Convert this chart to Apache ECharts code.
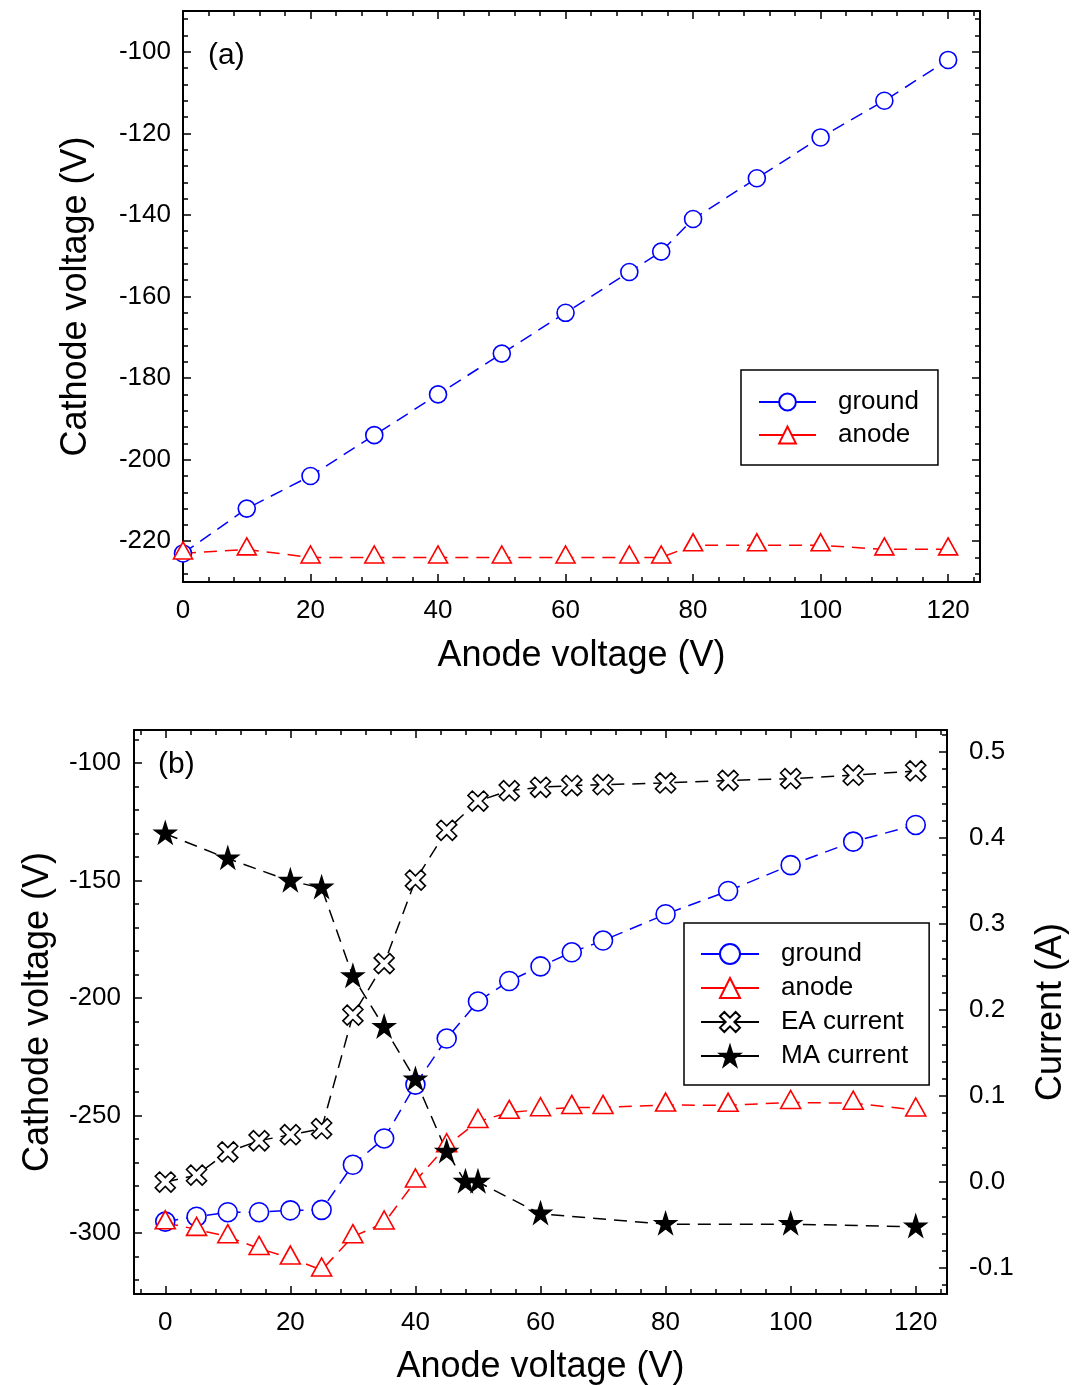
<!DOCTYPE html>
<html>
<head>
<meta charset="utf-8">
<script src="https://cdn.jsdelivr.net/npm/echarts@6/dist/echarts.min.js"></script>
<style>
html,body{margin:0;padding:0;background:#fff;}
#c{width:1072px;height:1385px;}
</style>
</head>
<body>
<div id="c"></div>
<script>
// ---------- Panel (a) data ----------
const xA = [0, 10, 20, 30, 40, 50, 60, 70, 75, 80, 90, 100, 110, 120];
const groundA = [-223, -212, -204, -194, -184, -174, -164, -154, -149, -141, -131, -121, -112, -102];
const anodeA = [-223, -222, -224, -224, -224, -224, -224, -224, -224, -221, -221, -221, -222, -222];

// ---------- Panel (b) data ----------
const xB = [0, 5, 10, 15, 20, 25, 30, 35, 40, 45, 50, 55, 60, 65, 70, 80, 90, 100, 110, 120];
const groundB = [-295.2, -293.1, -291.2, -291.2, -290.4, -290.2, -271.0, -259.8, -236.9, -217.3, -201.5, -192.8, -186.6, -180.6, -175.6, -164.4, -154.5, -143.5, -133.5, -126.4];
const anodeB = [-295.7, -298.5, -301.6, -306.6, -310.7, -315.8, -301.6, -295.8, -277.9, -262.9, -252.6, -248.7, -247.6, -246.6, -246.6, -245.6, -245.7, -244.5, -244.8, -247.7];
const eaCurrent = [0.000, 0.008, 0.035, 0.048, 0.055, 0.062, 0.194, 0.254, 0.351, 0.409, 0.443, 0.455, 0.459, 0.461, 0.462, 0.464, 0.467, 0.469, 0.473, 0.478];
const xMA = [0, 10, 20, 25, 30, 35, 40, 45, 48, 50, 60, 80, 100, 120];
const maCurrent = [0.405, 0.376, 0.350, 0.342, 0.239, 0.180, 0.119, 0.035, 0.000, 0.000, -0.037, -0.049, -0.049, -0.052];

// ---------- Tick labels ----------
const xTicksA = [0, 20, 40, 60, 80, 100, 120];
const yTicksA = [-220, -200, -180, -160, -140, -120, -100];
const xTicksB = [0, 20, 40, 60, 80, 100, 120];
const yTicksB = [-300, -250, -200, -150, -100];
const y2TicksB = [-0.1, 0.0, 0.1, 0.2, 0.3, 0.4, 0.5];

function minorList(from, to, step, majorStep, scale) {
  const out = [];
  for (let v = from; v <= to; v += step) {
    if (v % majorStep !== 0) out.push(v / scale);
  }
  return out;
}
const xMinorA = minorList(0, 124, 4, 20, 1);
const yMinorA = minorList(-228, -92, 4, 20, 1);
const xMinorB = minorList(-4, 124, 4, 20, 1);
const yMinorB = minorList(-320, -90, 10, 50, 1);
const y2MinorB = minorList(-12, 52, 2, 10, 100);

const FONT = 'Liberation Sans, Arial, sans-serif';
const AX = '#000';

function pair(common, major, minor, labelCfg, nameCfg) {
  const base = Object.assign({type: 'value', splitLine: {show: false}}, common);
  const a = Object.assign({}, base, {
    axisLine: {show: true, onZero: false, lineStyle: {color: AX, width: 2}},
    axisTick: {show: true, inside: true, length: 8, customValues: major, lineStyle: {color: AX, width: 1.5}},
    axisLabel: labelCfg ? Object.assign({show: true, customValues: major, color: '#000', fontSize: 26, fontFamily: FONT}, labelCfg) : {show: false}
  }, nameCfg || {});
  const b = Object.assign({}, base, {
    axisLine: {show: false, onZero: false},
    axisTick: {show: true, inside: true, length: 5, customValues: minor, lineStyle: {color: AX, width: 1.5}},
    axisLabel: {show: false}
  });
  return [a, b];
}

const nameStyle = {color: '#000', fontSize: 36, fontFamily: FONT};

const xAxes = [].concat(
  pair({gridIndex: 0, position: 'bottom', min: 0, max: 125}, xTicksA, xMinorA, {margin: 16},
       {name: 'Anode voltage (V)', nameLocation: 'middle', nameGap: 56, nameTextStyle: nameStyle}),
  pair({gridIndex: 0, position: 'top', min: 0, max: 125}, xTicksA, xMinorA, null),
  pair({gridIndex: 1, position: 'bottom', min: -5, max: 125}, xTicksB, xMinorB, {margin: 16},
       {name: 'Anode voltage (V)', nameLocation: 'middle', nameGap: 55, nameTextStyle: nameStyle}),
  pair({gridIndex: 1, position: 'top', min: -5, max: 125}, xTicksB, xMinorB, null)
);
const yAxes = [].concat(
  pair({gridIndex: 0, position: 'left', min: -230, max: -90}, yTicksA, yMinorA, {margin: 12},
       {name: 'Cathode voltage (V)', nameLocation: 'middle', nameGap: 89, nameRotate: 90, nameTextStyle: nameStyle}),
  pair({gridIndex: 0, position: 'right', min: -230, max: -90}, yTicksA, yMinorA, null),
  pair({gridIndex: 1, position: 'left', min: -326, max: -86}, yTicksB, yMinorB, {margin: 13},
       {name: 'Cathode voltage (V)', nameLocation: 'middle', nameGap: 78, nameRotate: 90, nameTextStyle: nameStyle}),
  pair({gridIndex: 1, position: 'right', min: -0.1302, max: 0.5256}, y2TicksB, y2MinorB,
       {margin: 22, formatter: v => Number(v).toFixed(1)},
       {name: 'Current (A)', nameLocation: 'middle', nameGap: 86, nameRotate: 90, nameTextStyle: nameStyle})
);

const DASH = [13, 8];
const xSym = 'path://M7.6 0.4 L9.6 2.4 L7 5 L9.6 7.6 L7.6 9.6 L5 7 L2.4 9.6 L0.4 7.6 L3 5 L0.4 2.4 L2.4 0.4 L5 3 Z';
const starSym = 'path://M5 0 L6.123 3.455 L9.755 3.455 L6.817 5.59 L7.939 9.045 L5 6.91 L2.061 9.045 L3.183 5.59 L0.245 3.455 L3.877 3.455 Z';

function zip(xs, ys) { return xs.map((x, i) => [x, ys[i]]); }

function lineSeries(name, xi, yi, data, color, symbol, size, fill, offset) {
  return {
    name: name, type: 'line', xAxisIndex: xi, yAxisIndex: yi, data: data,
    symbol: symbol, symbolSize: size, symbolOffset: offset || [0, 0], showSymbol: true,
    lineStyle: {color: color, width: 1.5, type: DASH},
    itemStyle: {color: fill, borderColor: color, borderWidth: 1.6},
    emphasis: {disabled: true}, animation: false
  };
}

const series = [
  lineSeries('ground', 0, 0, zip(xA, groundA), '#0000ff', 'circle', 17, '#fff'),
  lineSeries('anode', 0, 0, zip(xA, anodeA), '#ff0000', 'triangle', [19, 17], '#fff', [0, -3]),
  lineSeries('ground_b', 4, 4, zip(xB, groundB), '#0000ff', 'circle', 19, '#fff'),
  lineSeries('anode_b', 4, 4, zip(xB, anodeB), '#ff0000', 'triangle', [20, 18], '#fff', [0, -3]),
  lineSeries('EA current', 4, 6, zip(xB, eaCurrent), '#000', xSym, 20, '#fff'),
  lineSeries('MA current', 4, 6, zip(xMA, maCurrent), '#000', starSym, 21, '#000', [0, -1])
];

const legendText = {color: '#000', fontSize: 26, fontFamily: FONT, lineHeight: 26, padding: [0, 0, 0, 17]};

const option = {
  backgroundColor: '#fff',
  animation: false,
  grid: [
    {left: 183, top: 11, width: 797, height: 571, containLabel: false, outerBoundsMode: 'none'},
    {left: 134, top: 730, width: 813, height: 564, containLabel: false, outerBoundsMode: 'none'}
  ],
  xAxis: xAxes,
  yAxis: yAxes,
  legend: [
    {
      data: ['ground', 'anode'], orient: 'vertical', left: 741, top: 370,
      itemWidth: 57, itemHeight: 21, itemGap: 7, selectedMode: false,
      padding: [19, 19, 17, 17], borderColor: '#000', borderWidth: 1.5, backgroundColor: '#fff',
      lineStyle: {type: 'solid'}, textStyle: legendText
    },
    {
      data: ['ground_b', 'anode_b', 'EA current', 'MA current'], orient: 'vertical', left: 684, top: 923,
      itemWidth: 58, itemHeight: 25, itemGap: 8, selectedMode: false,
      padding: [18, 21, 16, 16], borderColor: '#000', borderWidth: 1.5, backgroundColor: '#fff',
      lineStyle: {type: 'solid'}, textStyle: legendText,
      formatter: n => n.replace('_b', '')
    }
  ],
  graphic: [
    {type: 'text', x: 208, y: 56, style: {text: '(a)', font: '30px ' + FONT, fill: '#000', verticalAlign: 'middle'}},
    {type: 'text', x: 158, y: 765, style: {text: '(b)', font: '30px ' + FONT, fill: '#000', verticalAlign: 'middle'}}
  ],
  series: series
};

const chart = echarts.init(document.getElementById('c'), null, {renderer: 'canvas'});
chart.setOption(option);
</script>
</body>
</html>
